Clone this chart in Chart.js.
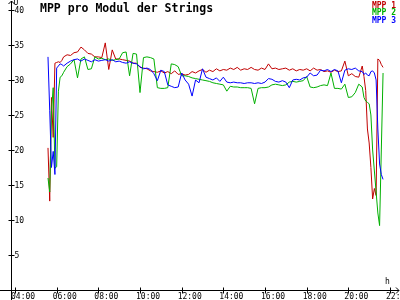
<!DOCTYPE html>
<html>
<head>
<meta charset="utf-8">
<script src="https://cdn.jsdelivr.net/npm/chart.js@4"></script>
<style>
body { margin: 0; background: #fff; }
canvas { display: block; }
</style>
</head>
<body>
<canvas id="chart" width="400" height="300"></canvas>
<script>
const times = [
  '05:35', '05:40', '05:45', '05:50', '05:55', '06:00', '06:05', '06:10', '06:15', '06:20',
  '06:30', '06:40', '06:50',
  '07:00', '07:10', '07:20', '07:30', '07:40', '07:50',
  '08:00', '08:10', '08:20', '08:30', '08:40', '08:50',
  '09:00', '09:10', '09:20', '09:30', '09:40', '09:50',
  '10:00', '10:10', '10:20', '10:30', '10:40', '10:50',
  '11:00', '11:10', '11:20', '11:30', '11:40', '11:50',
  '12:00', '12:10', '12:20', '12:30', '12:40', '12:50',
  '13:00', '13:10', '13:20', '13:30', '13:40', '13:50',
  '14:00', '14:10', '14:20', '14:30', '14:40', '14:50',
  '15:00', '15:10', '15:20', '15:30', '15:40', '15:50',
  '16:00', '16:10', '16:20', '16:30', '16:40', '16:50',
  '17:00', '17:10', '17:20', '17:30', '17:40', '17:50',
  '18:00', '18:10', '18:20', '18:30', '18:40', '18:50',
  '19:00', '19:10', '19:20', '19:30', '19:40', '19:50',
  '20:00', '20:10', '20:20', '20:30', '20:40',
  '20:45', '20:50', '20:55', '21:00', '21:05', '21:10', '21:15', '21:20', '21:25', '21:30', '21:35', '21:40'
];

const mpp1 = [
  20.3, 12.7, 27.5, 21.8, 32.4, 32.5, 32.6, 32.5, 32.8, 33.3,
  33.6, 33.5, 33.9,
  34.0, 34.7, 34.3, 33.8, 33.7, 33.3,
  33.3, 33.2, 35.3, 31.5, 34.3, 33.0,
  33.0, 32.9, 32.8, 32.7, 32.4, 32.4,
  31.8, 31.7, 31.6, 31.3, 31.2, 31.1,
  31.3, 31.0, 31.2, 30.9, 31.3, 30.8,
  30.9, 30.7, 30.8, 31.2, 31.0, 31.3,
  31.5, 31.1, 31.4, 31.2, 31.6, 31.3,
  31.5, 31.4, 31.7, 31.5, 31.8, 31.4,
  31.6, 31.5, 31.8, 31.5, 31.4, 31.7,
  31.5, 32.3, 31.6, 31.7, 31.5, 31.6,
  31.7, 31.4, 31.6, 31.3, 31.5, 31.4,
  31.6, 31.3, 31.7, 31.4, 31.5, 31.2,
  31.3, 31.1, 31.4, 31.2, 31.3, 32.7,
  30.6, 30.9, 30.5, 30.4, 32.0,
  30.5, 28.5, 23.0, 21.0, 17.5, 13.0, 14.5, 13.5, 33.0, 32.8, 32.2, 31.8
];

const mpp2 = [
  16.0, 14.0, 25.6, 28.9, 17.4, 17.6, 28.4, 30.4, 30.6, 31.1,
  31.9, 32.3, 32.9,
  30.3, 33.0, 33.3, 31.5, 31.6, 33.3,
  33.0, 33.1, 32.9, 33.0, 32.8, 32.9,
  33.0, 33.9, 34.0, 30.6, 33.8, 33.7,
  28.2, 33.2, 33.3, 33.2, 33.0, 28.9,
  28.8, 28.8, 28.9, 32.3, 32.2, 31.9,
  30.6, 30.6, 30.5, 30.3, 30.2, 30.1,
  30.0, 29.9, 29.8, 29.6, 29.5, 29.4,
  29.3, 28.4, 29.1, 29.0, 29.0, 28.9,
  28.9, 28.9, 28.8, 26.6, 28.8, 28.9,
  28.9, 29.0, 29.3, 29.4, 29.3, 29.2,
  29.3, 29.7, 29.8, 29.7, 29.8, 29.9,
  30.5, 29.0, 28.9, 29.0, 29.2, 29.3,
  29.2, 31.0, 28.8, 28.8, 28.7, 29.4,
  27.5, 27.6, 28.2, 29.4, 29.0,
  27.5, 27.0, 26.8, 26.6, 25.0, 20.0, 17.0, 14.0, 11.0, 9.2, 20.0, 31.0
];

const mpp3 = [
  33.3, 25.6, 17.5, 19.8, 16.5, 31.7, 32.0, 32.3, 32.2, 32.0,
  32.4, 32.7, 32.9,
  33.0, 32.7, 33.0, 32.8, 32.6, 32.9,
  32.7, 32.8, 32.9, 32.7, 32.9, 32.6,
  32.7, 32.5, 32.4, 32.6, 32.4, 32.3,
  31.9, 31.6, 31.7, 31.5, 30.9, 29.9,
  31.4, 31.2, 29.3, 29.1, 28.9, 29.0,
  31.0, 30.0, 29.4, 27.7, 30.0, 29.6,
  31.6, 30.4, 30.2, 30.0, 30.3, 29.8,
  30.4, 29.7, 29.6, 29.7, 29.6, 29.6,
  29.5, 29.6, 29.6, 29.5, 29.6, 29.5,
  29.7, 30.2, 30.1, 29.8, 29.7, 29.9,
  29.7, 28.9, 30.0, 30.1, 30.0, 30.3,
  30.4, 31.0, 30.6, 30.7, 31.4, 31.3,
  31.5, 31.2, 31.5, 31.3, 29.6, 31.4,
  31.6, 31.5, 31.7, 31.3, 31.2,
  30.8, 31.0, 30.7, 30.6, 31.2, 31.3, 31.0, 30.0, 23.0, 18.0, 16.5, 15.8
];

const seriesNames = ['MPP 1', 'MPP 2', 'MPP 3'];
const seriesColors = ['#c00000', '#00b000', '#0000ff'];
const yTicks = [5, 10, 15, 20, 25, 30, 35, 40];
const xTicks = [4, 6, 8, 10, 12, 14, 16, 18, 20, 22];

function toHours(t) {
  const [h, m] = t.split(':').map(Number);
  return h + m / 60;
}
function hourLabel(h) {
  return (h < 10 ? '0' : '') + h + ':00';
}

const hours = times.map(toHours);
const allSeries = [mpp1, mpp2, mpp3];

const datasets = allSeries.map((vals, i) => ({
  label: seriesNames[i],
  data: vals.map((v, j) => ({ x: hours[j], y: v })),
  borderColor: seriesColors[i],
  borderWidth: 1,
  pointRadius: 0,
  tension: 0,
  fill: false,
  order: 3 - i
}));

const mono = '"DejaVu Sans Mono", "Liberation Mono", monospace';

// axes, arrows, ticks and texts drawn by hand, placed with the chart's scales
const axesPlugin = {
  id: 'axes',
  beforeDatasetsDraw(chart) {
    const ctx = chart.ctx;
    const xs = chart.scales.x, ys = chart.scales.y;
    const ax = Math.round(xs.getPixelForValue(xs.min)) + 0.5;
    const ay = Math.round(ys.getPixelForValue(0)) + 0.5;
    ctx.save();
    ctx.strokeStyle = '#000';
    ctx.lineWidth = 1;
    ctx.beginPath();
    ctx.moveTo(ax, 1); ctx.lineTo(ax, 300);
    ctx.moveTo(0, ay); ctx.lineTo(399, ay);
    // arrows
    ctx.moveTo(ax - 3, 4); ctx.lineTo(ax, 1); ctx.lineTo(ax + 3, 4);
    ctx.moveTo(396, ay - 3); ctx.lineTo(399, ay); ctx.lineTo(396, ay + 3);
    yTicks.forEach(v => {
      const py = Math.round(ys.getPixelForValue(v)) + 0.5;
      ctx.moveTo(ax - 3, py); ctx.lineTo(ax + 3, py);
    });
    xTicks.forEach(h => {
      const px = Math.round(xs.getPixelForValue(h)) + 0.5;
      ctx.moveTo(px, ay - 3); ctx.lineTo(px, ay + 3);
    });
    ctx.stroke();

    ctx.fillStyle = '#000';
    ctx.font = '8px ' + mono;
    ctx.textAlign = 'left';
    ctx.textBaseline = 'middle';
    yTicks.forEach(v => {
      ctx.fillText(String(v), ax + 3, ys.getPixelForValue(v) + 0.5);
    });
    ctx.textBaseline = 'top';
    xTicks.forEach(h => {
      ctx.fillText(hourLabel(h), xs.getPixelForValue(h) - 4, ay + 2);
    });
    ctx.textBaseline = 'alphabetic';
    ctx.fillText('U', ax + 2, 5);
    ctx.fillText('h', 385, 284);
    ctx.restore();
  },
  afterDraw(chart) {
    const ctx = chart.ctx;
    ctx.save();
    ctx.fillStyle = '#000';
    ctx.font = 'bold 11.5px ' + mono;
    ctx.textAlign = 'left';
    ctx.textBaseline = 'alphabetic';
    ctx.fillText('MPP pro Modul der Strings', 40, 12);
    ctx.font = 'bold 8px ' + mono;
    ctx.textAlign = 'right';
    seriesNames.forEach((name, i) => {
      ctx.fillStyle = seriesColors[i];
      ctx.fillText(name, 396, 7.5 + i * 7.8);
    });
    ctx.restore();
  }
};

new Chart(document.getElementById('chart'), {
  type: 'line',
  data: { datasets },
  options: {
    responsive: false,
    animation: false,
    events: [],
    layout: { padding: { left: 11, top: 2, right: 2, bottom: 10 } },
    plugins: { legend: { display: false }, title: { display: false }, tooltip: { enabled: false } },
    scales: {
      x: { type: 'linear', min: 3.808, max: 22.384, display: false },
      y: { type: 'linear', min: 0, max: 41.14, display: false }
    }
  },
  plugins: [axesPlugin]
});
</script>
</body>
</html>
